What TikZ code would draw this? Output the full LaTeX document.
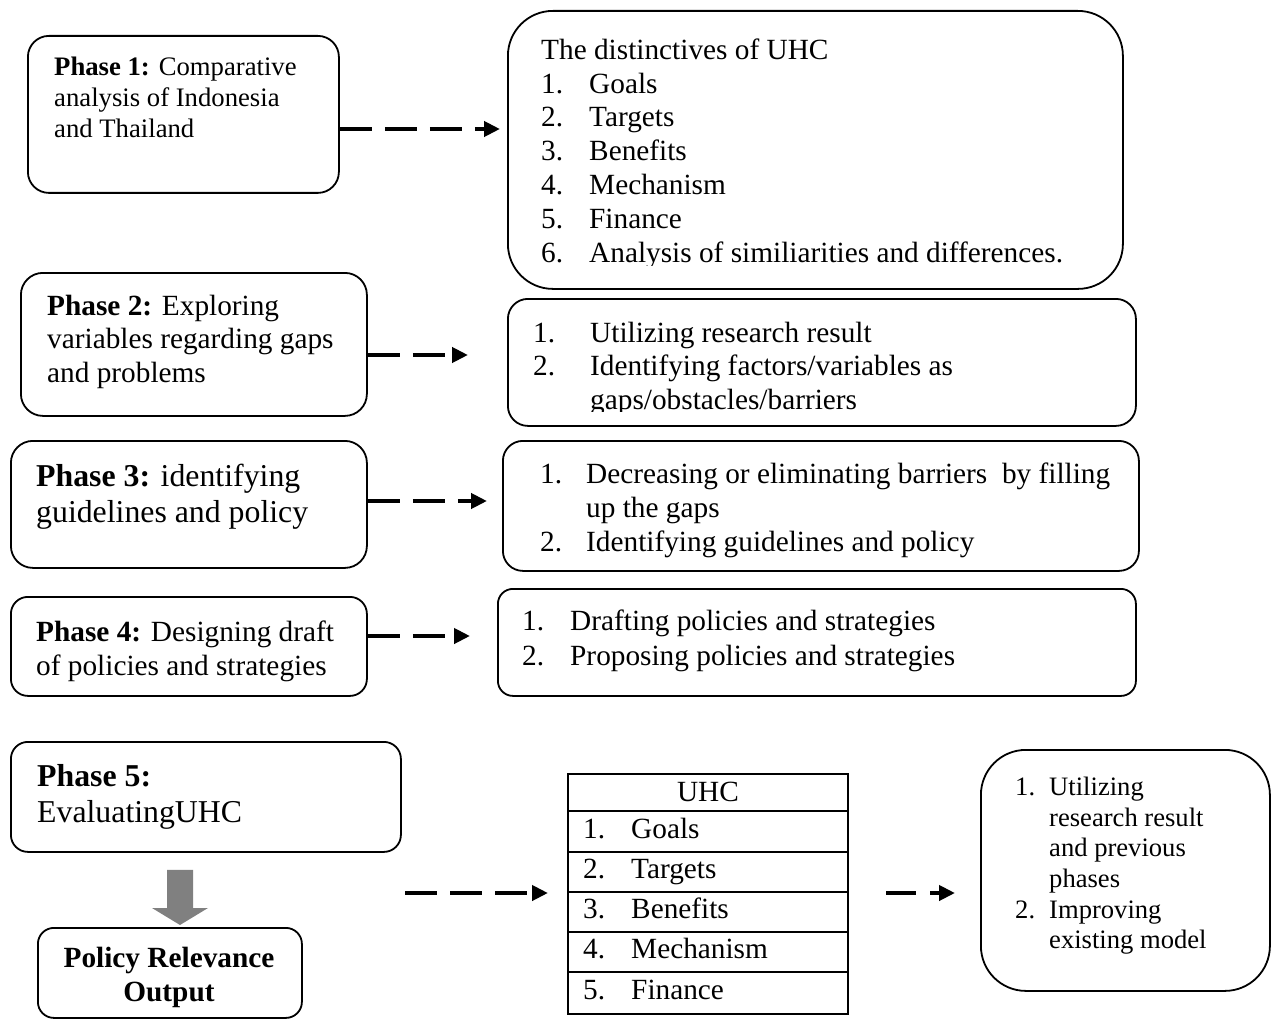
\documentclass[tikz,border=0pt]{standalone}
\usepackage{fontspec}
\setmainfont{Liberation Serif}
\usetikzlibrary{arrows.meta}
\definecolor{arrowgray}{RGB}{128,128,128}
\begin{document}
\begin{tikzpicture}[x=1pt,y=-1pt,
  frame/.style={draw, line width=1.8pt, anchor=north west, inner sep=0pt},
  cell/.style={draw, line width=1.8pt, anchor=north west, inner sep=0pt, minimum width=280pt},
  txt/.style={inner sep=0pt, anchor=base west},
  ctxt/.style={inner sep=0pt, anchor=base},
  flow/.style={line width=4pt, dash pattern=on 32pt off 13pt,
               -{Triangle[length=16pt,width=15pt]}},
  fsmall/.style={font=\fontsize{26.7}{31}\selectfont},
  fnorm/.style={font=\fontsize{29.3}{34}\selectfont},
  fbig/.style={font=\fontsize{31.8}{36}\selectfont},
  fbr/.style={font=\fontsize{26.6}{31}\selectfont},
]
\useasboundingbox (0,0) rectangle (1276,1019);

% ---------------- frames ----------------
\node[frame, rounded corners=21pt, minimum width=311pt, minimum height=157pt] (p1) at (27,35) {};
\node[frame, rounded corners=45pt, minimum width=615pt, minimum height=278pt] (d1) at (507,10) {};
\node[frame, rounded corners=22pt, minimum width=346pt, minimum height=143pt] (p2) at (20,272) {};
\node[frame, rounded corners=20pt, minimum width=628pt, minimum height=127pt] (d2) at (507,298) {};
\node[frame, rounded corners=22pt, minimum width=356pt, minimum height=127pt] (p3) at (10,440) {};
\node[frame, rounded corners=20pt, minimum width=636pt, minimum height=130pt] (d3) at (502,440) {};
\node[frame, rounded corners=17pt, minimum width=356pt, minimum height=99pt] (p4) at (10,596) {};
\node[frame, rounded corners=15pt, minimum width=638pt, minimum height=107pt] (d4) at (497,588) {};
\node[frame, rounded corners=17pt, minimum width=390pt, minimum height=110pt] (p5) at (10,741) {};
\node[frame, rounded corners=16pt, minimum width=264pt, minimum height=90pt] (po) at (37,927) {};
\node[frame, rounded corners=45pt, minimum width=289pt, minimum height=241pt] (d5) at (980,749) {};

% UHC table rows
\node[cell, minimum height=37pt] (u0) at (567,773) {};
\node[cell, minimum height=41pt] (u1) at (567,810) {};
\node[cell, minimum height=40pt] (u2) at (567,851) {};
\node[cell, minimum height=40pt] (u3) at (567,891) {};
\node[cell, minimum height=40pt] (u4) at (567,931) {};
\node[cell, minimum height=42pt] (u5) at (567,971) {};

% ---------------- texts ----------------
% Phase 1
\node[txt, fsmall] (p1a) at (54,76) {\textbf{Phase 1:} Comparative};
\node[txt, fsmall] (p1b) at (54,107) {analysis of Indonesia};
\node[txt, fsmall] (p1c) at (54,138) {and Thailand};

% distinctives of UHC
\node[txt, fnorm] (d1t) at (541,60) {The distinctives of UHC};
\node[txt, fnorm] (d1n1) at (541,93.5) {1.};  \node[txt, fnorm] (d1i1) at (589,93.5) {Goals};
\node[txt, fnorm] (d1n2) at (541,127) {2.};   \node[txt, fnorm] (d1i2) at (589,127) {Targets};
\node[txt, fnorm] (d1n3) at (541,161) {3.};   \node[txt, fnorm] (d1i3) at (589,161) {Benefits};
\node[txt, fnorm] (d1n4) at (541,194.5) {4.}; \node[txt, fnorm] (d1i4) at (589,194.5) {Mechanism};
\node[txt, fnorm] (d1n5) at (541,228) {5.};   \node[txt, fnorm] (d1i5) at (589,228) {Finance};
\begin{scope}
  \clip (520,235) rectangle (1110,265);
  \node[txt, fnorm] (d1n6) at (541,262) {6.};
  \node[txt, fnorm] (d1i6) at (589,262) {Analysis of similiarities and differences.};
\end{scope}

% Phase 2
\node[txt, fnorm] (p2a) at (47,315) {\textbf{Phase 2:} Exploring};
\node[txt, fnorm] (p2b) at (47,348.5) {variables regarding gaps};
\node[txt, fnorm] (p2c) at (47,382) {and problems};

\node[txt, fnorm] (d2n1) at (533,342) {1.}; \node[txt, fnorm] (d2i1) at (590,342) {Utilizing research result};
\node[txt, fnorm] (d2n2) at (533,375.5) {2.}; \node[txt, fnorm] (d2i2) at (590,375.5) {Identifying factors/variables as};
\begin{scope}
  \clip (520,385) rectangle (1120,411);
  \node[txt, fnorm] (d2i3) at (590,409) {gaps/obstacles/barriers};
\end{scope}

% Phase 3
\node[txt, fbig] (p3a) at (36,486) {\textbf{Phase 3:} identifying};
\node[txt, fbig] (p3b) at (36,522) {guidelines and policy};

\node[txt, fnorm] (d3n1) at (540,483) {1.}; \node[txt, fnorm] (d3i1) at (586,483) {Decreasing or eliminating barriers\ \ by filling};
\node[txt, fnorm] (d3i1b) at (586,517) {up the gaps};
\node[txt, fnorm] (d3n2) at (540,551) {2.}; \node[txt, fnorm] (d3i2) at (586,551) {Identifying guidelines and policy};

% Phase 4
\node[txt, fnorm] (p4a) at (36,641) {\textbf{Phase 4:} Designing draft};
\node[txt, fnorm] (p4b) at (36,675) {of policies and strategies};

\node[txt, fnorm] (d4n1) at (522,630) {1.}; \node[txt, fnorm] (d4i1) at (570,630) {Drafting policies and strategies};
\node[txt, fnorm] (d4n2) at (522,665) {2.}; \node[txt, fnorm] (d4i2) at (570,665) {Proposing policies and strategies};

% Phase 5
\node[txt, fbig] (p5a) at (37,786) {\textbf{Phase 5:}};
\node[txt, fbig] (p5b) at (37,822) {EvaluatingUHC};

\node[ctxt, fnorm] (poa) at (169,967) {\textbf{Policy Relevance}};
\node[ctxt, fnorm] (pob) at (169,1001) {\textbf{Output}};

% UHC table texts
\node[ctxt, fnorm] (u0t) at (708,801) {UHC};
\node[txt, fnorm] (u1n) at (583,838) {1.};   \node[txt, fnorm] (u1t) at (631,838) {Goals};
\node[txt, fnorm] (u2n) at (583,878.5) {2.}; \node[txt, fnorm] (u2t) at (631,878.5) {Targets};
\node[txt, fnorm] (u3n) at (583,918.5) {3.}; \node[txt, fnorm] (u3t) at (631,918.5) {Benefits};
\node[txt, fnorm] (u4n) at (583,958.5) {4.}; \node[txt, fnorm] (u4t) at (631,958.5) {Mechanism};
\node[txt, fnorm] (u5n) at (583,999) {5.};   \node[txt, fnorm] (u5t) at (631,999) {Finance};

% final box
\node[txt, fbr] (d5n1) at (1015,795) {1.}; \node[txt, fbr] (d5a) at (1049,795) {Utilizing};
\node[txt, fbr] (d5b) at (1049,826) {research result};
\node[txt, fbr] (d5c) at (1049,856) {and previous};
\node[txt, fbr] (d5d) at (1049,887) {phases};
\node[txt, fbr] (d5n2) at (1015,918) {2.}; \node[txt, fbr] (d5e) at (1049,918) {Improving};
\node[txt, fbr] (d5f) at (1049,948) {existing model};

% ---------------- connectors ----------------
\coordinate (a1e) at (500,129);
\coordinate (a2e) at (468,355);
\coordinate (a3e) at (487,501);
\coordinate (a4e) at (470,636);
\coordinate (a5s) at (405,893);
\coordinate (a6s) at (886,893);

\draw[flow] (p1.east |- a1e) -- (a1e);
\draw[flow] (p2.east |- a2e) -- (a2e);
\draw[flow] (p3.east |- a3e) -- (a3e);
\draw[flow] (p4.east |- a4e) -- (a4e);
\draw[flow] (a5s) -- ([xshift=-19pt]u0.west |- a5s);
\draw[flow, dash pattern=on 30pt off 14pt] (a6s) -- ([xshift=-25pt]d5.west |- a6s);

% grey block arrow from Phase 5 down to the output box
\fill[arrowgray] ([xshift=-13pt,yshift=-17pt]p5.south -| 180,0) -- ([xshift=13pt,yshift=-17pt]p5.south -| 180,0)
  -- (193,908) -- (208,908) -- (180,925) -- (152,908) -- (167,908) -- cycle;
\end{tikzpicture}
\end{document}
